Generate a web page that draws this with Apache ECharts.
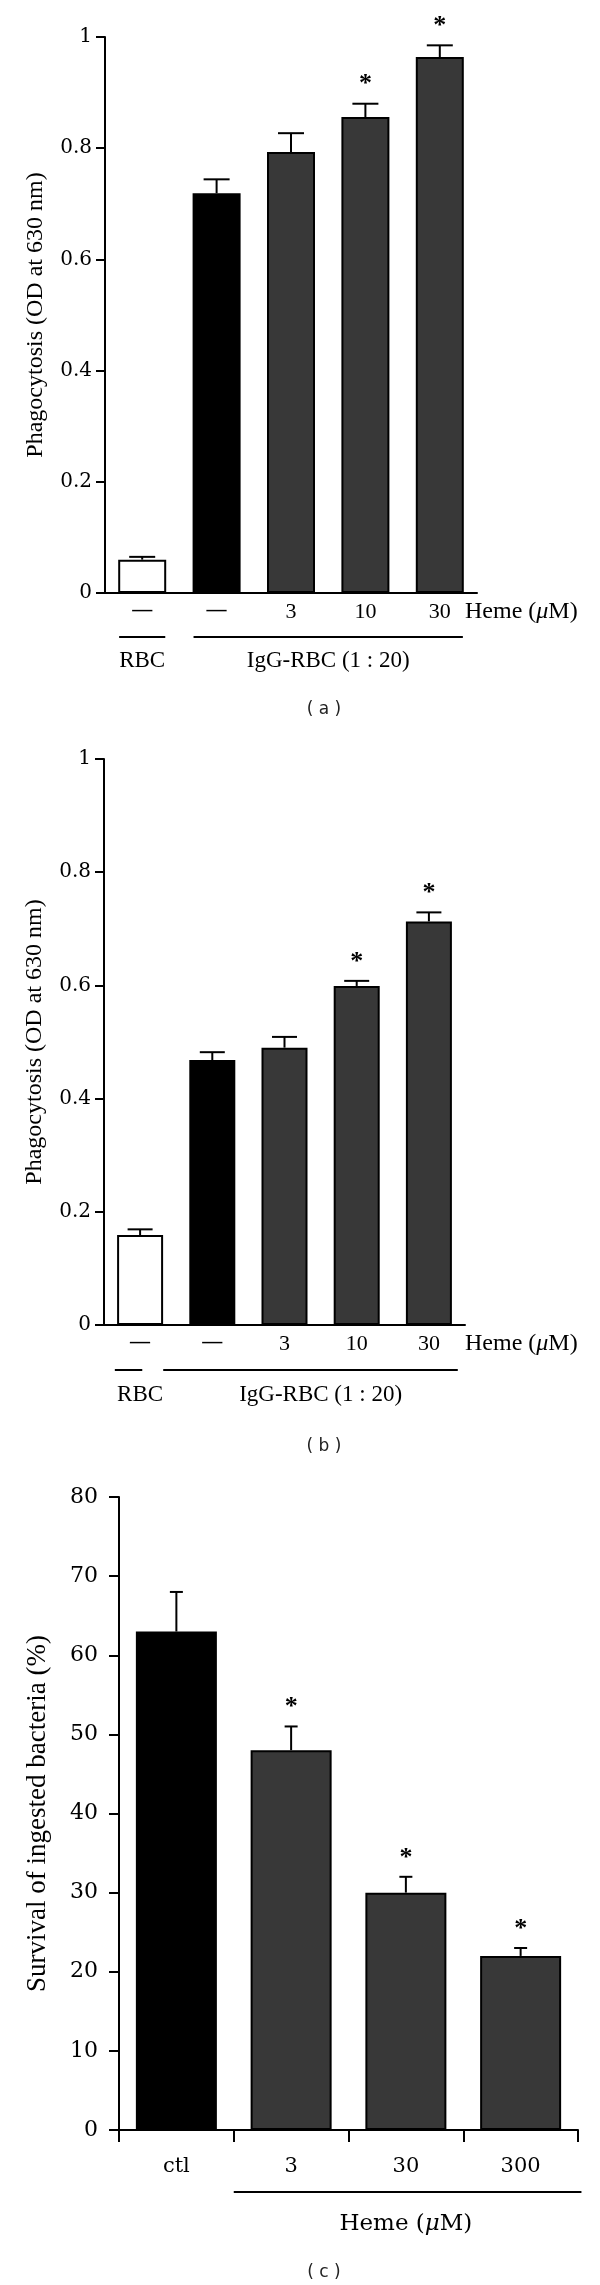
<!DOCTYPE html>
<html><head><meta charset="utf-8">
<script src="https://cdn.jsdelivr.net/npm/echarts@6/dist/echarts.min.js"></script>
<style>html,body{margin:0;padding:0;background:#fff}#c{width:600px;height:2285px}</style>
</head><body><div id="c"></div>
<script>
// ---------------- DATA ----------------
// Panel (a)
const catsA   = ['—', '—', '3', '10', '30'];
const valsA   = [0.060, 0.719, 0.793, 0.856, 0.964];
const errA    = [0.005, 0.025, 0.034, 0.024, 0.021];
const starA   = [0, 0, 0, 1, 1];
const groupsA = [{label: 'RBC', from: 0, to: 0}, {label: 'IgG-RBC (1 : 20)', from: 1, to: 4}];
const ticksA  = [0, 0.2, 0.4, 0.6, 0.8, 1];

// Panel (b)
const catsB   = ['—', '—', '3', '10', '30'];
const valsB   = [0.159, 0.468, 0.490, 0.599, 0.713];
const errB    = [0.010, 0.014, 0.019, 0.009, 0.016];
const starB   = [0, 0, 0, 1, 1];
const groupsB = [{label: 'RBC', from: 0, to: 0}, {label: 'IgG-RBC (1 : 20)', from: 1, to: 4}];
const ticksB  = [0, 0.2, 0.4, 0.6, 0.8, 1];

// Panel (c)
const catsC   = ['ctl', '3', '30', '300'];
const valsC   = [63, 48, 30, 22];
const errC    = [5, 3, 2, 1];
const starC   = [0, 1, 1, 1];
const groupsC = [{label: 'Heme (μM)', from: 1, to: 3}];
const ticksC  = [0, 10, 20, 30, 40, 50, 60, 70, 80];

const yTitleAB = 'Phagocytosis (OD at 630 nm)';
const yTitleC  = 'Survival of ingested bacteria (%)';

// ---------------- STYLE ----------------
const WHITE = '#ffffff', BLACK = '#000000', GREY = '#383838';
const fillsAB = [WHITE, BLACK, GREY, GREY, GREY];
const fillsC  = [BLACK, GREY, GREY, GREY];
const TSERIF = 'Liberation Serif';
const WSERIF = 'DejaVu Serif';

const panels = [
  {cats: catsA, vals: valsA, errs: errA, stars: starA, groups: groupsA, ticks: ticksA, fills: fillsAB,
   title: yTitleAB, tag: '( a )',
   grid: {left: 105, top: 37, width: 372, height: 556},
   barWidth: 48, capHalf: 13, tickLen: 9, yLabelSize: 20, yLabelMargin: 13, yNameSize: 24, yNameGap: 57,
   xTicks: false, xLabelFont: TSERIF, xLabelSize: 22, xLabelMargin: 8,
   heme: true, hemeGap: -12,
   groupExt: [[-0.31, 0.31], [-0.31, 0.31]], lineDy: 44, textDy: 68, groupFont: TSERIF, groupSize: 23,
   tagY: 710},
  {cats: catsB, vals: valsB, errs: errB, stars: starB, groups: groupsB, ticks: ticksB, fills: fillsAB,
   title: yTitleAB, tag: '( b )',
   grid: {left: 104, top: 759, width: 361, height: 566},
   barWidth: 46, capHalf: 12.5, tickLen: 9, yLabelSize: 20, yLabelMargin: 13, yNameSize: 24, yNameGap: 57,
   xTicks: false, xLabelFont: TSERIF, xLabelSize: 22, xLabelMargin: 8,
   heme: true, hemeGap: 0,
   groupExt: [[-0.35, 0.03], [-0.68, 0.40]], lineDy: 45, textDy: 70, groupFont: TSERIF, groupSize: 23,
   tagY: 1447},
  {cats: catsC, vals: valsC, errs: errC, stars: starC, groups: groupsC, ticks: ticksC, fills: fillsC,
   title: yTitleC, tag: '( c )',
   grid: {left: 119, top: 1497, width: 459, height: 633},
   barWidth: 81, capHalf: 6.5, tickLen: 10, yLabelSize: 22, yLabelMargin: 21, yNameSize: 27, yNameGap: 68,
   xTicks: true, xLabelFont: WSERIF, xLabelSize: 21, xLabelMargin: 26,
   heme: false,
   groupExt: [[-0.5, 0.53]], lineDy: 62, textDy: 94, groupFont: WSERIF, groupSize: 23,
   tagY: 2273}
];

function richLabel(label) {
  // render the Greek mu in italics
  const k = label.indexOf('μ');
  if (k < 0) return '{n|' + label + '}';
  return '{n|' + label.slice(0, k) + '}{i|μ}{n|' + label.slice(k + 1) + '}';
}
function richStyles(font, size) {
  return {
    n: {fontFamily: font, fontSize: size, color: BLACK},
    i: {fontFamily: font, fontSize: size, fontStyle: 'italic', color: BLACK}
  };
}

const option = {
  backgroundColor: '#ffffff',
  animation: false,
  grid: [], xAxis: [], yAxis: [], series: [], graphic: []
};

panels.forEach((p, idx) => {
  option.grid.push(Object.assign({containLabel: false, outerBoundsMode: 'none'}, p.grid));
  option.xAxis.push({
    type: 'category', gridIndex: idx, data: p.cats, boundaryGap: true,
    axisLine: {show: true, onZero: false, lineStyle: {color: BLACK, width: 2}},
    axisTick: {show: p.xTicks, length: 12, interval: 0, alignWithLabel: false, lineStyle: {color: BLACK, width: 2}},
    axisLabel: {interval: 0, color: BLACK, fontFamily: p.xLabelFont, fontSize: p.xLabelSize, margin: p.xLabelMargin,
      formatter: v => (v === '—' ? '{d|—}' : v),
      rich: {d: {fontFamily: TSERIF, fontSize: 20, fontWeight: 'bold', color: BLACK}}},
    splitLine: {show: false},
    name: p.heme ? richLabel('Heme (μM)') : '',
    nameLocation: 'end', nameGap: p.hemeGap, nameMoveOverlap: false,
    nameTextStyle: {align: 'left', verticalAlign: 'middle', padding: [38, 0, 0, 0], rich: richStyles(TSERIF, 24)}
  });
  const tk = p.ticks;
  option.yAxis.push({
    type: 'value', gridIndex: idx, min: tk[0], max: tk[tk.length - 1], interval: tk[1] - tk[0],
    axisLine: {show: true, lineStyle: {color: BLACK, width: 2}},
    axisTick: {show: true, inside: false, length: p.tickLen, lineStyle: {color: BLACK, width: 2}},
    axisLabel: {color: BLACK, fontFamily: WSERIF, fontSize: p.yLabelSize, margin: p.yLabelMargin},
    splitLine: {show: false},
    name: p.title, nameLocation: 'middle', nameRotate: 90, nameGap: p.yNameGap, nameMoveOverlap: false,
    nameTextStyle: {color: BLACK, fontFamily: TSERIF, fontSize: p.yNameSize}
  });
  // bars
  option.series.push({
    type: 'bar', xAxisIndex: idx, yAxisIndex: idx, barWidth: p.barWidth, silent: true, z: 2,
    data: p.vals.map((v, i) => ({value: v, itemStyle: {color: p.fills[i]}})),
    itemStyle: {borderColor: BLACK, borderWidth: 2}
  });
  // error bars + significance stars
  const capHalf = p.capHalf;
  option.series.push({
    type: 'custom', xAxisIndex: idx, yAxisIndex: idx, silent: true, z: 5, clip: false,
    data: p.vals.map((v, i) => [i, v, v + p.errs[i], p.stars[i]]),
    renderItem: (params, api) => {
      const i = api.value(0);
      const base = api.coord([i, api.value(1)]);
      const top = api.coord([i, api.value(2)]);
      const ch = [
        {type: 'line', shape: {x1: base[0], y1: base[1], x2: top[0], y2: top[1]}, style: {stroke: BLACK, lineWidth: 2}},
        {type: 'line', shape: {x1: top[0] - capHalf, y1: top[1], x2: top[0] + capHalf, y2: top[1]}, style: {stroke: BLACK, lineWidth: 2}}
      ];
      if (api.value(3)) {
        ch.push({type: 'text', style: {text: '*', x: top[0], y: top[1] - 6, align: 'center', verticalAlign: 'bottom',
          fontFamily: TSERIF, fontSize: 26, fontWeight: 'bold', fill: BLACK}});
      }
      return {type: 'group', children: ch};
    }
  });
  // group brackets under the axis
  const groups = p.groups, ext = p.groupExt, lineDy = p.lineDy, textDy = p.textDy;
  const gFont = p.groupFont, gSize = p.groupSize;
  option.series.push({
    type: 'custom', xAxisIndex: idx, yAxisIndex: idx, silent: true, z: 5, clip: false,
    encode: {x: [0, 1]},
    data: groups.map((g, k) => [g.from, g.to, k]),
    renderItem: (params, api) => {
      const k = api.value(2);
      const a = api.coord([api.value(0), tk[0]]);
      const b = api.coord([api.value(1), tk[0]]);
      const bw = api.size([1, 0])[0];
      const x1 = a[0] + ext[k][0] * bw, x2 = b[0] + ext[k][1] * bw;
      return {type: 'group', children: [
        {type: 'line', shape: {x1: x1, y1: a[1] + lineDy, x2: x2, y2: a[1] + lineDy}, style: {stroke: BLACK, lineWidth: 2}},
        {type: 'text', style: {text: richLabel(groups[k].label), rich: richStyles(gFont, gSize),
          x: (a[0] + b[0]) / 2, y: a[1] + textDy, align: 'center', verticalAlign: 'middle'}}
      ]};
    }
  });
  // panel tag
  option.graphic.push({type: 'text', x: 324, y: p.tagY, silent: true,
    style: {text: p.tag, fontFamily: 'DejaVu Sans', fontSize: 17, fill: '#222', align: 'center', verticalAlign: 'middle'}});
});

const chart = echarts.init(document.getElementById('c'), null, {renderer: 'canvas', width: 600, height: 2285});
chart.setOption(option);
</script>
</body></html>
